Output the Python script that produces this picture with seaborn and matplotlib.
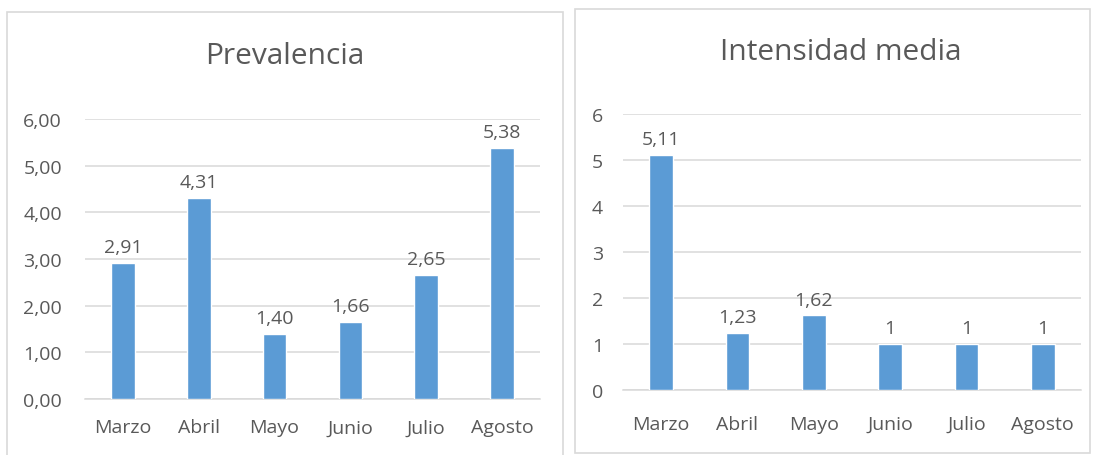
import matplotlib
matplotlib.use("Agg")
import matplotlib.pyplot as plt
from matplotlib.patches import Rectangle
import seaborn as sns
import pandas as pd

meses = ["Marzo", "Abril", "Mayo", "Junio", "Julio", "Agosto"]
prevalencia = [2.91, 4.31, 1.40, 1.66, 2.65, 5.38]
intensidad = [5.11, 1.23, 1.62, 1.0, 1.0, 1.0]
ticks_prev = ["0,00", "1,00", "2,00", "3,00", "4,00", "5,00", "6,00"]
ticks_int = ["0", "1", "2", "3", "4", "5", "6"]

sns.set_theme(style="white")
plt.rcParams["font.family"] = ["Open Sans", "DejaVu Sans"]

BAR = "#5B9BD5"
GRID = "#D9D9D9"
TXT = "#595959"

W, H = 1094, 456
fig = plt.figure(figsize=(W / 100, H / 100), dpi=100)
fig.patch.set_facecolor("white")

# chart frames
for (x0, y0, x1, y1) in [(7, 13, 563, 460), (575, 10, 1090, 454)]:
    fig.patches.append(Rectangle((x0 / W, 1 - y1 / H), (x1 - x0) / W, (y1 - y0) / H,
                                 transform=fig.transFigure, fill=False,
                                 edgecolor=GRID, linewidth=1.2))


def panel(rect, values, ticklabels, title, fmt, title_xy, ypad, xpad):
    ax = fig.add_axes(rect)
    df = pd.DataFrame({"mes": meses, "valor": values})
    sns.barplot(data=df, x="mes", y="valor", color=BAR, saturation=1,
                width=0.31, ax=ax, zorder=3)
    ax.set_ylim(0, 6)
    ax.set_xlim(-0.5, len(meses) - 0.5)
    ax.set_yticks(range(7))
    ax.set_yticklabels(ticklabels)
    ax.yaxis.grid(True, color=GRID, linewidth=1.1, zorder=0)
    ax.xaxis.grid(False)
    for s in ["top", "right", "left"]:
        ax.spines[s].set_visible(False)
    ax.spines["bottom"].set_color(GRID)
    ax.spines["bottom"].set_linewidth(1.1)
    ax.set_xlabel("")
    ax.set_ylabel("")
    ax.tick_params(axis="y", length=0, pad=ypad, labelsize=14, labelcolor=TXT)
    ax.tick_params(axis="x", length=0, pad=xpad, labelsize=14, labelcolor=TXT)
    ax.bar_label(ax.containers[0], labels=[fmt(v) for v in values],
                 padding=5, fontsize=14, color=TXT)
    ax.set_facecolor("white")
    fig.text(title_xy[0] / W, 1 - title_xy[1] / H, title, ha="center", va="center",
             fontsize=21.5, color=TXT)
    return ax


panel([85 / W, 1 - 400 / H, 455 / W, 280 / H], prevalencia, ticks_prev, "Prevalencia",
      lambda v: f"{v:.2f}".replace(".", ","), (285, 57), 16.5, 14)
panel([623 / W, 1 - 391 / H, 458 / W, 276 / H], intensidad, ticks_int, "Intensidad media",
      lambda v: f"{v:g}".replace(".", ","), (841, 53), 14.5, 18)

fig.savefig("out.png", dpi=100, facecolor="white")
